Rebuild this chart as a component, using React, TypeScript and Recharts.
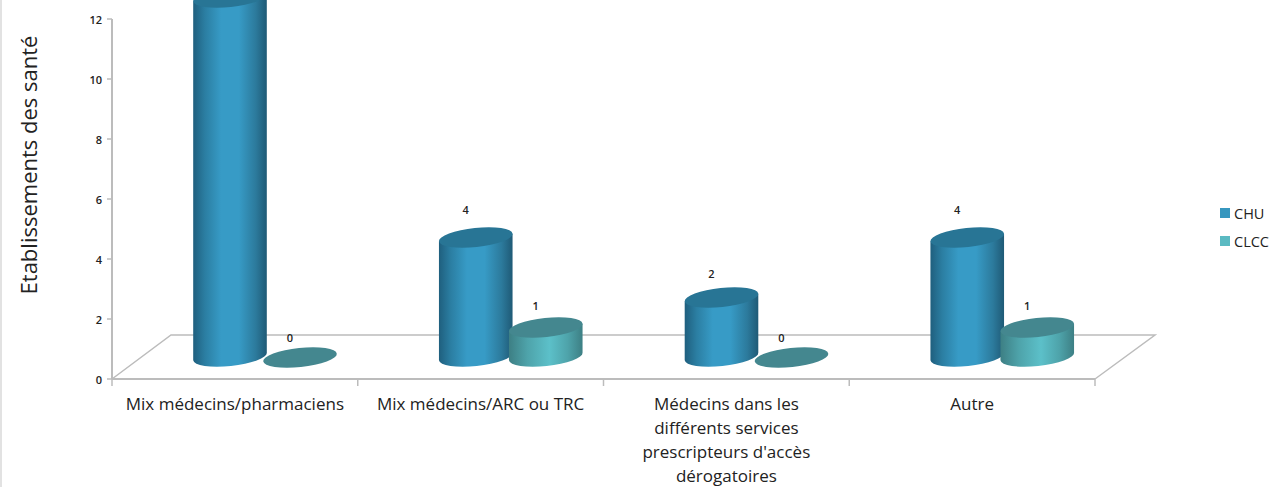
import { BarChart, Bar, XAxis, YAxis, Legend, LabelList } from "recharts";

const categories = [
  "Mix médecins/pharmaciens",
  "Mix médecins/ARC ou TRC",
  "Médecins dans les\ndifférents services\nprescripteurs d'accès\ndérogatoires",
  "Autre",
];
const chu = [12, 4, 2, 4];
const clcc = [0, 1, 0, 1];
const yTicks = [0, 2, 4, 6, 8, 10, 12];

const rows = categories.map((name, i) => ({ name, CHU: chu[i], CLCC: clcc[i] }));

const FONT = "'Open Sans', sans-serif";
const GRID = "#bcbcbc";

// The fake 3D look: cylinders stand on a floor behind the axis line
const DEPTH_X = 30;
const DEPTH_Y = 21.5;
const TILT = 6;
const RY = 9.5;

const LOOK: Record<string, { body: string; top: string }> = {
  CHU: { body: "url(#cyl-chu)", top: "#287595" },
  CLCC: { body: "url(#cyl-clcc)", top: "#44878f" },
};

function Cylinder(props: any) {
  const { x, y, width, height, dataKey } = props;
  const look = LOOK[dataKey] ?? LOOK.CHU;
  const cx = x + width / 2 + DEPTH_X;
  const rx = width / 2;
  const top = y - DEPTH_Y;
  const base = y + height - DEPTH_Y - 1;
  const ex = rx * Math.cos((TILT * Math.PI) / 180);
  const ey = rx * Math.sin((TILT * Math.PI) / 180);
  const ellipse = `rotate(${-TILT} ${cx} ${top})`;
  if (height <= 0) {
    return <ellipse cx={cx} cy={top} rx={rx} ry={RY} fill={look.top} transform={ellipse} />;
  }
  const d =
    `M${cx - ex} ${top + ey} L${cx - ex} ${base + ey} ` +
    `A${rx} ${RY} ${-TILT} 0 0 ${cx + ex} ${base - ey} ` +
    `L${cx + ex} ${top - ey} Z`;
  return (
    <g>
      <path d={d} fill={look.body} />
      <ellipse cx={cx} cy={top} rx={rx} ry={RY} fill={look.top} transform={ellipse} />
    </g>
  );
}

function ValueLabel(props: any) {
  const { x, y, width, value } = props;
  const labelY = y - DEPTH_Y - 15.5 - 2 * value;
  // the tallest cylinder runs past the top of the chart, its label has no room
  if (labelY < 0) return null;
  return (
    <text
      x={x + width / 2 + DEPTH_X - 10}
      y={labelY}
      textAnchor="middle"
      fontSize={11}
      fontFamily={FONT}
      fontWeight={600}
      fill="#222"
    >
      {value}
    </text>
  );
}

// Category label, split on line breaks, with the tick mark on the band's left edge
const BAND = 245.75;

function CategoryTick(props: any) {
  const { x, y, payload, index } = props;
  const lines = String(payload.value).split("\n");
  const y0 = y - 8;
  return (
    <g>
      <line x1={x - BAND / 2} x2={x - BAND / 2} y1={y0} y2={y0 + 7} stroke={GRID} strokeWidth={1.5} />
      {index === categories.length - 1 && (
        <line x1={x + BAND / 2} x2={x + BAND / 2} y1={y0} y2={y0 + 7} stroke={GRID} strokeWidth={1.5} />
      )}
      {lines.map((line, i) => (
        <text
          key={i}
          x={x}
          y={y0 + 31 + i * 24}
          textAnchor="middle"
          fontSize={17}
          fontFamily={FONT}
          fill="#222"
        >
          {line}
        </text>
      ))}
    </g>
  );
}

function LegendBox({ payload }: any) {
  return (
    <div style={{ fontFamily: FONT, fontSize: 14.5, color: "#222" }}>
      {(payload ?? []).map((item: any) => (
        <div key={item.value} style={{ display: "flex", alignItems: "center", height: 28 }}>
          <span style={{ width: 10, height: 10, background: item.color, marginRight: 4 }} />
          {item.value}
        </div>
      ))}
    </div>
  );
}

export default function App() {
  return (
    <div style={{ position: "absolute", left: 0, top: 0, width: 1271, height: 487, background: "#fff", overflow: "hidden" }}>
      <div style={{ position: "absolute", left: 0, top: 0, width: 2, height: 487, background: "#e2e2e2" }} />
      <BarChart
        width={1271}
        height={487}
        data={rows}
        margin={{ top: 19, right: 176, bottom: 0, left: 0 }}
        barSize={74}
        barGap={-4}
        barCategoryGap={0}
      >
        <defs>
          <linearGradient id="cyl-chu" x1="0" y1="0" x2="1" y2="0">
            <stop offset="0%" stopColor="#1f5f7e" />
            <stop offset="16%" stopColor="#2b7ea2" />
            <stop offset="38%" stopColor="#379bc6" />
            <stop offset="62%" stopColor="#379bc6" />
            <stop offset="85%" stopColor="#2c7a9c" />
            <stop offset="100%" stopColor="#1f5a76" />
          </linearGradient>
          <linearGradient id="cyl-clcc" x1="0" y1="0" x2="1" y2="0">
            <stop offset="0%" stopColor="#3d7f84" />
            <stop offset="25%" stopColor="#4ea3aa" />
            <stop offset="55%" stopColor="#5cc0c9" />
            <stop offset="80%" stopColor="#4ea3aa" />
            <stop offset="100%" stopColor="#3d7f84" />
          </linearGradient>
        </defs>
        {/* floor of the 3D box */}
        <polyline points="112,379 171,335 1155,335 1095,379" fill="none" stroke={GRID} strokeWidth={1.5} />
        <XAxis
          dataKey="name"
          height={108}
          interval={0}
          tickLine={false}
          axisLine={{ stroke: GRID, strokeWidth: 2 }}
          tick={<CategoryTick />}
        />
        <YAxis
          width={112}
          domain={[0, 12]}
          ticks={yTicks}
          tickSize={5}
          tickMargin={5}
          tickLine={{ stroke: GRID, strokeWidth: 1.5 }}
          axisLine={{ stroke: GRID, strokeWidth: 2 }}
          tick={{ fontSize: 11, fontFamily: FONT, fontWeight: 600, fill: "#222", dy: 1 }}
          label={{
            value: "Etablissements des santé",
            angle: -90,
            position: "insideLeft",
            offset: 29,
            dy: -34,
            style: { textAnchor: "middle", fontSize: 22, fontFamily: FONT, fill: "#222" },
          }}
        />
        <Legend
          layout="vertical"
          align="center"
          verticalAlign="middle"
          wrapperStyle={{ left: 1220, top: 199, width: 51 }}
          content={<LegendBox />}
        />
        <Bar dataKey="CHU" fill="#3797bf" isAnimationActive={false} shape={(p: any) => <Cylinder {...p} dataKey="CHU" />}>
          <LabelList dataKey="CHU" content={<ValueLabel />} />
        </Bar>
        <Bar dataKey="CLCC" fill="#5bbac2" isAnimationActive={false} shape={(p: any) => <Cylinder {...p} dataKey="CLCC" />}>
          <LabelList dataKey="CLCC" content={<ValueLabel />} />
        </Bar>
      </BarChart>
    </div>
  );
}
